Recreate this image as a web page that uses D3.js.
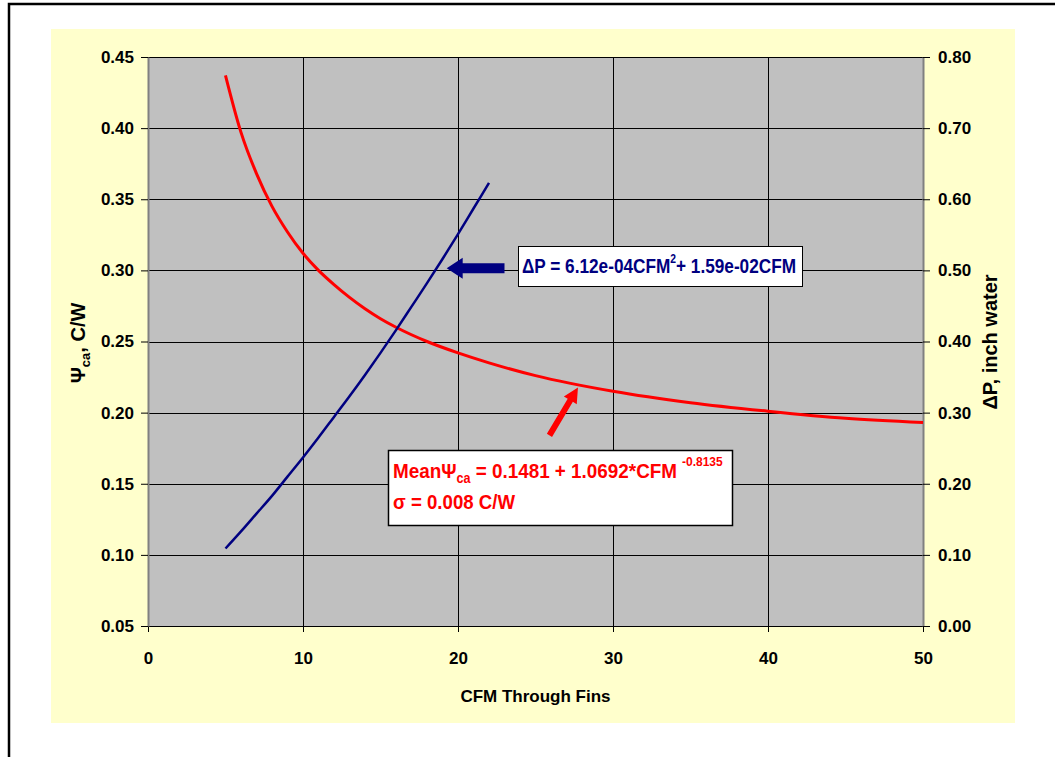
<!DOCTYPE html>
<html lang="en">
<head>
  <meta charset="UTF-8">
  <title>Psi ca and Delta P vs CFM</title>
  <script src="https://d3js.org/d3.v7.min.js"></script>
  <style>
    body { margin: 0; background: #fff; }
    svg { display: block; font-family: Arial, "Liberation Sans", sans-serif; font-weight: bold; }
  </style>
</head>
<body>
  <div id="chart"></div>
  <script>
    // mean thermal resistance (left axis)
    const cfmPsi = [5, 6, 7, 8, 9, 10, 11, 12, 13, 14, 15, 16, 18, 20, 22, 25, 30, 35, 40, 45, 50];
    const psiMean = [0.437, 0.397, 0.368, 0.345, 0.327, 0.312, 0.300, 0.290, 0.281, 0.273, 0.266,
                     0.260, 0.250, 0.242, 0.235, 0.226, 0.215, 0.207, 0.201, 0.196, 0.193];

    // pressure drop (right axis)
    const cfmDp = [5, 6, 7, 8, 9, 10, 11, 12, 13, 14, 15, 16, 17, 18, 19, 20, 21, 22];
    const deltaP = [0.109, 0.133, 0.158, 0.183, 0.210, 0.237, 0.265, 0.294, 0.323, 0.353,
                    0.384, 0.416, 0.449, 0.482, 0.516, 0.551, 0.587, 0.623];

    const xTicks = [0, 10, 20, 30, 40, 50];
    const leftTicks = [0.05, 0.10, 0.15, 0.20, 0.25, 0.30, 0.35, 0.40, 0.45];
    const rightTicks = [0, 0.1, 0.2, 0.3, 0.4, 0.5, 0.6, 0.7, 0.8];

    const W = 1055, H = 757;
    const plot = { left: 148, right: 923, top: 57, bottom: 626 };

    const svg = d3.select("#chart").append("svg")
      .attr("width", W)
      .attr("height", H);

    // outer frame + yellow chart area
    svg.append("path")
      .attr("d", `M9,${H} V4 H${W}`)
      .attr("fill", "none")
      .attr("stroke", "#000")
      .attr("stroke-width", 2.5);

    svg.append("rect")
      .attr("x", 51).attr("y", 29)
      .attr("width", 964).attr("height", 694)
      .attr("fill", "#FFFFCC");

    const x = d3.scaleLinear().domain([0, 50]).range([plot.left, plot.right]);
    const yL = d3.scaleLinear().domain([0.05, 0.45]).range([plot.bottom, plot.top]);
    const yR = d3.scaleLinear().domain([0, 0.8]).range([plot.bottom, plot.top]);

    svg.append("rect")
      .attr("x", plot.left).attr("y", plot.top)
      .attr("width", plot.right - plot.left)
      .attr("height", plot.bottom - plot.top)
      .attr("fill", "#C0C0C0");

    // gridlines
    svg.append("g")
      .selectAll("line")
      .data(leftTicks)
      .join("line")
      .attr("x1", plot.left).attr("x2", plot.right)
      .attr("y1", d => Math.round(yL(d)) + 0.5)
      .attr("y2", d => Math.round(yL(d)) + 0.5)
      .attr("stroke", "#000")
      .attr("stroke-width", 1);

    svg.append("g")
      .selectAll("line")
      .data(xTicks.slice(1, -1))
      .join("line")
      .attr("x1", d => Math.round(x(d)) + 0.5)
      .attr("x2", d => Math.round(x(d)) + 0.5)
      .attr("y1", plot.top).attr("y2", plot.bottom)
      .attr("stroke", "#000")
      .attr("stroke-width", 1);

    // axes
    const xAxis = svg.append("g")
      .attr("transform", `translate(0,${plot.bottom})`)
      .call(d3.axisBottom(x).tickValues(xTicks).tickSize(6).tickPadding(20).tickSizeOuter(0));

    const leftAxis = svg.append("g")
      .attr("transform", `translate(${plot.left},0)`)
      .call(d3.axisLeft(yL).tickValues(leftTicks).tickFormat(d3.format(".2f")).tickSize(7).tickPadding(7).tickSizeOuter(0));

    const rightAxis = svg.append("g")
      .attr("transform", `translate(${plot.right},0)`)
      .call(d3.axisRight(yR).tickValues(rightTicks).tickFormat(d3.format(".2f")).tickSize(7).tickPadding(8).tickSizeOuter(0));

    [xAxis, leftAxis, rightAxis].forEach(g => {
      g.selectAll("text")
        .attr("font-family", "Arial, 'Liberation Sans', sans-serif")
        .attr("font-weight", "bold")
        .attr("font-size", 17)
        .attr("fill", "#000");
      g.selectAll(".tick line").attr("stroke", "#000");
    });
    xAxis.select(".domain").attr("stroke", "#000");
    leftAxis.select(".domain").attr("stroke", "#808080").attr("stroke-width", 2);
    rightAxis.select(".domain").attr("stroke", "#808080").attr("stroke-width", 2);

    // axis titles
    svg.append("text")
      .attr("x", (plot.left + plot.right) / 2)
      .attr("y", 702)
      .attr("text-anchor", "middle")
      .attr("font-size", 17)
      .text("CFM Through Fins");

    const lt = svg.append("text")
      .attr("transform", "translate(85,343) rotate(-90)")
      .attr("text-anchor", "middle")
      .attr("font-size", 20);
    lt.append("tspan").text("Ψ");
    lt.append("tspan").attr("font-size", 13).attr("dy", 5).text("ca");
    lt.append("tspan").attr("dy", -5).text(", C/W");

    svg.append("text")
      .attr("transform", "translate(997,342) rotate(-90)")
      .attr("text-anchor", "middle")
      .attr("font-size", 20)
      .text("ΔP, inch water");

    // curves
    const line = d3.line().curve(d3.curveMonotoneX);

    svg.append("path")
      .attr("d", line(cfmPsi.map((c, i) => [x(c), yL(psiMean[i])])))
      .attr("fill", "none")
      .attr("stroke", "#FF0000")
      .attr("stroke-width", 3);

    svg.append("path")
      .attr("d", line(cfmDp.map((c, i) => [x(c), yR(deltaP[i])])))
      .attr("fill", "none")
      .attr("stroke", "#000080")
      .attr("stroke-width", 2.5);

    // block arrow from (x1,y1) to tip (x2,y2)
    function arrow(x1, y1, x2, y2, shaft, headL, headW, color) {
      const len = Math.hypot(x2 - x1, y2 - y1);
      const ang = Math.atan2(y2 - y1, x2 - x1) * 180 / Math.PI;
      const s = shaft / 2, h = headW / 2, b = len - headL;
      const pts = [[0, -s], [b, -s], [b, -h], [len, 0], [b, h], [b, s], [0, s]];
      svg.append("polygon")
        .attr("points", pts.map(p => p.join(",")).join(" "))
        .attr("transform", `translate(${x1},${y1}) rotate(${ang})`)
        .attr("fill", color);
    }

    // dP annotation
    arrow(x(23.0), yR(0.503), x(19.27), yR(0.503), 10, 16, 21, "#000080");

    svg.append("rect")
      .attr("x", 518.5).attr("y", 246.5)
      .attr("width", 284).attr("height", 40)
      .attr("fill", "#fff")
      .attr("stroke", "#000")
      .attr("stroke-width", 1);

    const bt = svg.append("text")
      .attr("x", 522).attr("y", 273)
      .attr("font-size", 20)
      .attr("fill", "#000080")
      .attr("textLength", 274)
      .attr("lengthAdjust", "spacingAndGlyphs");
    bt.append("tspan").text("ΔP = 6.12e-04CFM");
    bt.append("tspan").attr("font-size", 12).attr("dy", -10).text("2");
    bt.append("tspan").attr("dy", 10).text("+ 1.59e-02CFM");

    // Psi annotation
    arrow(x(25.9), yL(0.184), x(27.74), yL(0.2177), 6, 15, 15, "#FF0000");

    svg.append("rect")
      .attr("x", 388.5).attr("y", 450.5)
      .attr("width", 344).attr("height", 75)
      .attr("fill", "#fff")
      .attr("stroke", "#000")
      .attr("stroke-width", 1.5);

    const rt = svg.append("text")
      .attr("x", 393).attr("y", 478)
      .attr("font-size", 21)
      .attr("fill", "#FF0000")
      .attr("textLength", 284)
      .attr("lengthAdjust", "spacingAndGlyphs");
    rt.append("tspan").text("MeanΨ");
    rt.append("tspan").attr("font-size", 14).attr("dy", 5).text("ca");
    rt.append("tspan").attr("dy", -5).text(" = 0.1481 + 1.0692*CFM");

    svg.append("text")
      .attr("x", 682).attr("y", 466)
      .attr("font-size", 12)
      .attr("fill", "#FF0000")
      .text("-0.8135");

    svg.append("text")
      .attr("x", 393).attr("y", 509)
      .attr("font-size", 21)
      .attr("fill", "#FF0000")
      .attr("textLength", 122)
      .attr("lengthAdjust", "spacingAndGlyphs")
      .text("σ = 0.008 C/W");
  </script>
</body>
</html>
